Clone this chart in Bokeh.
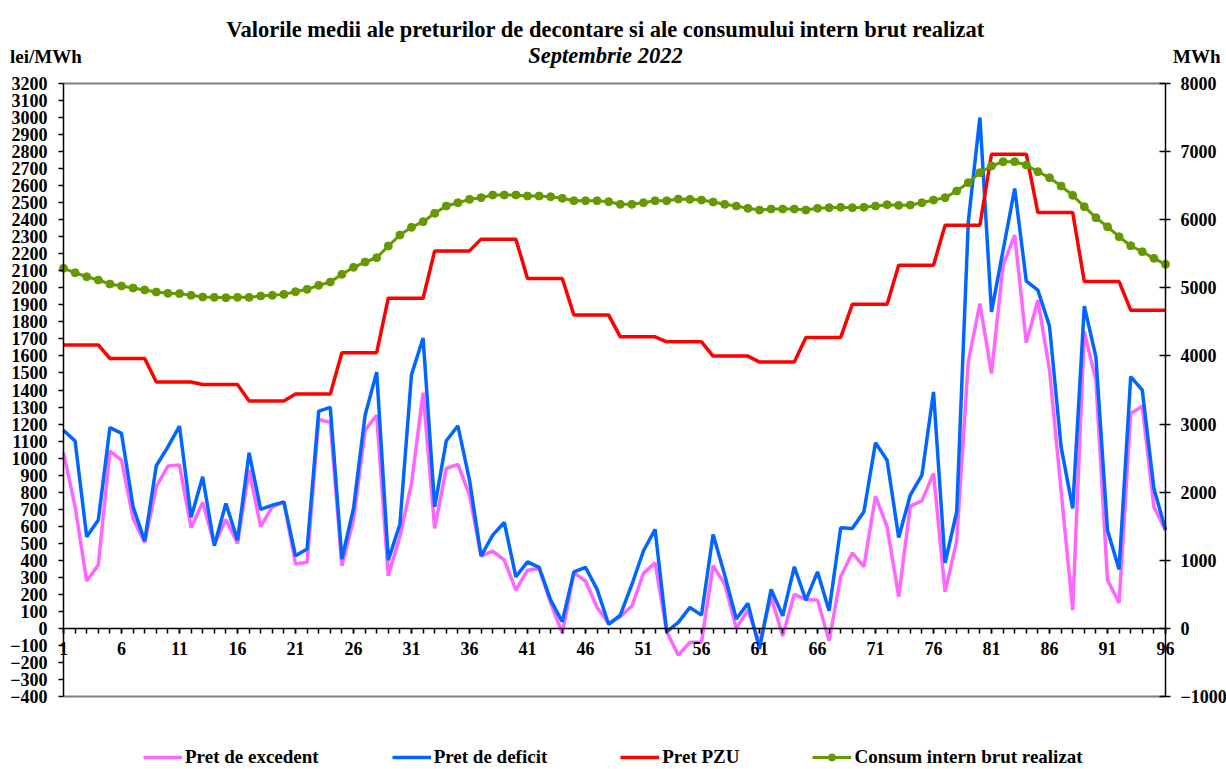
from bokeh.plotting import figure
from bokeh.models import Range1d, LinearAxis, FixedTicker, Label, Legend, LegendItem
from bokeh.embed import file_html
from bokeh.resources import INLINE

# ---------------- data ----------------
intervals = list(range(1, 97))
x_tick_labels = [1, 6, 11, 16, 21, 26, 31, 36, 41, 46, 51, 56, 61, 66, 71, 76, 81, 86, 91, 96]
left_ticks = [-400, -300, -200, -100, 0, 100, 200, 300, 400, 500, 600, 700, 800, 900, 1000, 1100,
              1200, 1300, 1400, 1500, 1600, 1700, 1800, 1900, 2000, 2100, 2200, 2300, 2400, 2500,
              2600, 2700, 2800, 2900, 3000, 3100, 3200]
right_ticks = [-1000, 0, 1000, 2000, 3000, 4000, 5000, 6000, 7000, 8000]

pret_excedent = [1033, 714, 278, 372, 1041, 988, 646, 503, 832, 953, 959, 591, 740, 493, 640, 499,
                 930, 597, 714, 743, 378, 388, 1227, 1210, 368, 636, 1164, 1252, 309, 538, 851, 1384,
                 587, 939, 963, 783, 425, 454, 401, 225, 342, 352, 150, -29, 326, 278, 123, 29,
                 68, 131, 323, 385, -20, -157, -82, -82, 368, 260, 0, 107, -88, 186, -45, 200,
                 170, 166, -73, 303, 444, 362, 777, 597, 186, 718, 749, 910, 215, 513, 1566, 1908,
                 1497, 2133, 2309, 1677, 1928, 1517, 810, 107, 1742, 1458, 284, 150, 1262, 1305, 714, 575]

pret_deficit = [1164, 1100, 538, 636, 1180, 1145, 714, 513, 955, 1066, 1188, 652, 890, 485, 734, 518,
                1031, 699, 724, 743, 426, 466, 1276, 1298, 407, 705, 1252, 1505, 401, 612, 1490, 1705,
                714, 1102, 1190, 871, 425, 548, 622, 303, 391, 358, 166, 39, 332, 358, 229, 23,
                78, 258, 456, 581, -20, 35, 123, 78, 552, 313, 55, 147, -120, 229, 74, 362,
                166, 332, 104, 591, 587, 685, 1090, 988, 534, 783, 900, 1389, 385, 685, 2388, 3000,
                1859, 2221, 2583, 2039, 1986, 1775, 1066, 705, 1893, 1595, 577, 346, 1478, 1399, 822, 581]

pret_pzu = [1665, 1665, 1665, 1665, 1585, 1585, 1585, 1585, 1447, 1447, 1447, 1447,
            1432, 1432, 1432, 1432, 1335, 1335, 1335, 1335, 1376, 1376, 1376, 1376,
            1619, 1619, 1619, 1619, 1939, 1939, 1939, 1939, 2217, 2217, 2217, 2217,
            2286, 2286, 2286, 2286, 2055, 2055, 2055, 2055, 1840, 1840, 1840, 1840,
            1712, 1712, 1712, 1712, 1683, 1683, 1683, 1683, 1599, 1599, 1599, 1599,
            1564, 1564, 1564, 1564, 1709, 1709, 1709, 1709, 1903, 1903, 1903, 1903,
            2133, 2133, 2133, 2133, 2368, 2368, 2368, 2368, 2785, 2785, 2785, 2785,
            2442, 2442, 2442, 2442, 2037, 2037, 2037, 2037, 1869, 1869, 1869, 1869]

consum = [5286, 5222, 5163, 5115, 5056, 5027, 4997, 4968, 4938, 4919, 4915, 4890, 4865, 4860, 4855, 4860,
          4860, 4880, 4890, 4904, 4943, 4978, 5037, 5085, 5198, 5301, 5379, 5442, 5614, 5775, 5888, 5971,
          6094, 6201, 6250, 6299, 6324, 6363, 6363, 6363, 6348, 6348, 6338, 6314, 6279, 6279, 6279, 6265,
          6226, 6226, 6250, 6279, 6279, 6304, 6299, 6289, 6260, 6226, 6201, 6167, 6142, 6157, 6157, 6157,
          6142, 6167, 6177, 6182, 6177, 6182, 6201, 6221, 6211, 6216, 6250, 6289, 6324, 6422, 6544, 6690,
          6789, 6852, 6852, 6803, 6705, 6617, 6495, 6358, 6191, 6030, 5897, 5750, 5618, 5530, 5433, 5345]

FONT = "Liberation Serif"

# ---------------- geometry (canvas pixels) ----------------
W, H = 1226, 769
FL, FR, FT, FB = 63.0, 1165.0, 83.0, 696.0       # plot box inside the canvas
X0, X1 = 1, 96
Y0, Y1 = -400, 3200
R0, R1 = -1000, 8000


def dx(px):
    return X0 + (px - FL) * (X1 - X0) / (FR - FL)


def dy(py):
    return Y1 - (py - FT) * (Y1 - Y0) / (FB - FT)


def dr(py):
    return R1 - (py - FT) * (R1 - R0) / (FB - FT)


# ---------------- figure (frame covers the whole canvas) ----------------
p = figure(width=W, height=H, output_backend="svg", toolbar_location=None,
           x_range=Range1d(dx(0), dx(W)), y_range=Range1d(dy(H), dy(0)),
           x_axis_location=None, y_axis_location=None,
           min_border_left=0, min_border_right=0, min_border_top=0, min_border_bottom=0,
           background_fill_color="white", border_fill_color="white")
p.title.visible = False
p.extra_y_ranges = {"mwh": Range1d(dr(H), dr(0))}
p.xgrid.visible = False
p.ygrid.visible = False
p.outline_line_color = None


def style_axis(ax, size="18px"):
    ax.axis_line_color = "black"
    ax.axis_line_width = 1.5
    ax.major_tick_line_color = "black"
    ax.major_tick_line_width = 1.5
    ax.major_label_text_font = FONT
    ax.major_label_text_font_style = "bold"
    ax.major_label_text_font_size = size
    ax.major_label_text_color = "black"


# x axis on the zero line
xa = LinearAxis(ticker=FixedTicker(ticks=x_tick_labels, minor_ticks=intervals),
                fixed_location=0, bounds=(X0, X1))
style_axis(xa)
xa.minor_tick_line_color = "black"
xa.minor_tick_line_width = 1.5
xa.major_tick_in = 0
xa.major_tick_out = 5
xa.minor_tick_in = 0
xa.minor_tick_out = 5
xa.major_label_standoff = 9
p.add_layout(xa, "below")

# left axis (lei/MWh)
ya = LinearAxis(ticker=FixedTicker(ticks=left_ticks), fixed_location=X0, bounds=(Y0, Y1))
style_axis(ya)
ya.major_tick_in = 0
ya.major_tick_out = 5
ya.minor_tick_line_color = None
ya.major_label_standoff = 11
p.add_layout(ya, "left")

# right axis (MWh)
ra = LinearAxis(y_range_name="mwh", ticker=FixedTicker(ticks=right_ticks),
                fixed_location=X1, bounds=(R0, R1))
style_axis(ra)
ra.major_tick_in = 6
ra.major_tick_out = 5
ra.minor_tick_line_color = None
ra.major_label_standoff = 10
p.add_layout(ra, "right")

# grey top / bottom border of the plot box
p.segment(x0=[X0, X0], y0=[Y1, Y0], x1=[X1, X1], y1=[Y1, Y0], line_color="#808080", line_width=2)

# ---------------- series ----------------
r_exc = p.line(intervals, pret_excedent, line_color="#FF66FF", line_width=3.5)
r_def = p.line(intervals, pret_deficit, line_color="#0066FF", line_width=3.5)
r_pzu = p.line(intervals, pret_pzu, line_color="#FF0000", line_width=3.5)
r_con = p.line(intervals, consum, line_color="#669900", line_width=3, y_range_name="mwh")
r_conm = p.scatter(intervals, consum, size=8, fill_color="#669900", line_color="#669900",
                   y_range_name="mwh")


# ---------------- texts ----------------
def lab(px, py, text, align, size, style="bold"):
    p.add_layout(Label(x=dx(px), y=dy(py), text=text, text_align=align,
                       text_baseline="alphabetic", text_font=FONT, text_font_style=style,
                       text_font_size=size, text_color="black"))


lab(605, 29, "Valorile medii ale preturilor de decontare si ale consumului intern brut realizat",
    "center", "22.5px")
lab(605, 55, "Septembrie 2022", "center", "22.5px", "bold italic")
lab(9.5, 56, "lei/MWh", "left", "19px")
lab(1220, 56, "MWh", "right", "19px")

# ---------------- legend ----------------
legend = Legend(items=[
    LegendItem(label="Pret de excedent", renderers=[r_exc]),
    LegendItem(label="Pret de deficit", renderers=[r_def]),
    LegendItem(label="Pret PZU", renderers=[r_pzu]),
    LegendItem(label="Consum intern brut realizat", renderers=[r_con, r_conm]),
], orientation="horizontal", location=(143, 1))
legend.glyph_width = 39
legend.glyph_height = 18
legend.label_height = 18
legend.label_standoff = 3
legend.spacing = 73
legend.padding = 0
legend.margin = 0
legend.border_line_color = None
legend.background_fill_alpha = 0
legend.label_text_font = FONT
legend.label_text_font_style = "bold"
legend.label_text_font_size = "19px"
legend.label_text_color = "black"
p.add_layout(legend, "center")

open("out.html", "w").write(file_html(p, INLINE))
